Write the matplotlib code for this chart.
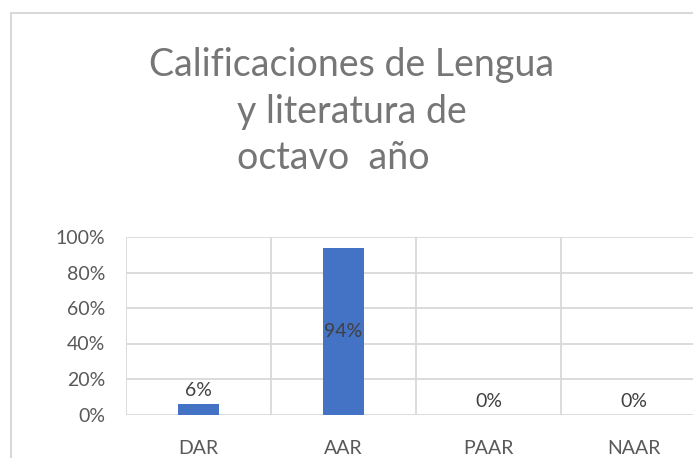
import matplotlib
matplotlib.use("Agg")
import matplotlib.pyplot as plt
from matplotlib.patches import Rectangle

# Datos del gráfico
categorias = ['DAR', 'AAR', 'PAAR', 'NAAR']
porcentajes = [6, 94, 0, 0]
ticks_y = [0, 20, 40, 60, 80, 100]

plt.rcParams['font.family'] = ['Lato', 'DejaVu Sans']

W, H = 693, 458
fig = plt.figure(figsize=(W / 100, H / 100), dpi=100)

# marco del gráfico
fig.add_artist(Rectangle((11 / W, -0.1), 1.0, 1.1 - 13 / H, transform=fig.transFigure,
                         fill=False, edgecolor='#D9D9D9', linewidth=1.5))

# título en tres líneas
color_titulo = '#767676'
tam_titulo = 27
fig.text(352 / W, 1 - 76 / H, 'Calificaciones de Lengua', ha='center', va='baseline',
         fontsize=tam_titulo, color=color_titulo)
fig.text(237 / W, 1 - 123 / H, 'y literatura de', ha='left', va='baseline',
         fontsize=tam_titulo, color=color_titulo)
fig.text(237 / W, 1 - 169 / H, 'octavo  año', ha='left', va='baseline',
         fontsize=tam_titulo, color=color_titulo)

ax = fig.add_axes([126 / W, (H - 414.5) / H, 580 / W, 177.5 / H])
x = list(range(len(categorias)))
ax.set_xlim(-0.5, len(categorias) - 0.5)
ax.set_ylim(0, 100)

# rejilla
for t in ticks_y:
    ax.axhline(t, color='#D9D9D9', linewidth=1.3, zorder=1)
for b in [-0.5, 0.5, 1.5, 2.5]:
    ax.axvline(b, color='#D9D9D9', linewidth=1.3, zorder=1)

ax.bar(x, porcentajes, width=0.285, color='#4472C4', zorder=2)

# etiquetas de datos
for xi, v in zip(x, porcentajes):
    if v > 50:
        ax.text(xi, v / 2, f'{v}%', ha='center', va='center', fontsize=14,
                color='#404040', zorder=3)
    else:
        ax.annotate(f'{v}%', (xi, v), xytext=(0, 3.5), textcoords='offset points',
                    ha='center', va='bottom', fontsize=14, color='#404040', zorder=3)

for s in ax.spines.values():
    s.set_visible(False)
ax.set_xticks(x)
ax.set_xticklabels(categorias)
ax.set_yticks(ticks_y)
ax.set_yticklabels([f'{t}%' for t in ticks_y])
ax.tick_params(axis='x', length=0, pad=18, labelsize=14, labelcolor='#595959')
ax.tick_params(axis='y', length=0, pad=15, labelsize=14, labelcolor='#595959')

fig.savefig('out.png', dpi=100)
